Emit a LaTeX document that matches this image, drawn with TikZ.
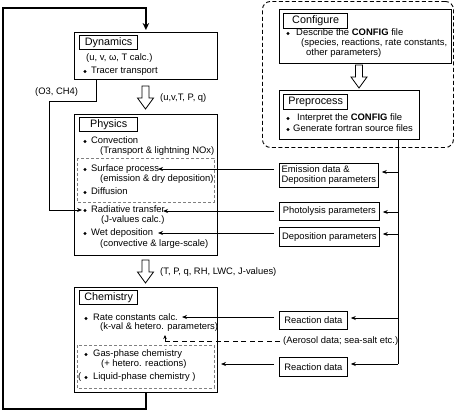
\documentclass[tikz,border=0pt]{standalone}
\usepackage{fontspec}
\setmainfont{Liberation Sans}
\usetikzlibrary{arrows.meta}
\newcommand\harrow[3]{%
  \draw[line width=0.8pt, fill=white, line join=miter] (#1-3.5,#2) -- (#1+3.5,#2) -- (#1+3.5,#3-11) -- (#1+8,#3-11) -- (#1,#3) -- (#1-8,#3-11) -- (#1-3.5,#3-11) -- cycle;}
\begin{document}
\begin{tikzpicture}[x=1pt,y=-1pt,
  every node/.style={inner sep=0pt},
  bodyf/.style={font=\fontsize{9.4}{10}\selectfont},
  cfgf/.style={font=\fontsize{9.45}{10}\selectfont},
  txt/.style={bodyf, anchor=west, text height=6.8pt, text depth=1.8pt},
  ctxt/.style={cfgf, anchor=west, text height=6.8pt, text depth=1.8pt},
  mainbox/.style={draw, line width=0.8pt, anchor=north west},
  titlebox/.style={draw, line width=1.3pt, anchor=north west, minimum width=58pt, minimum height=14pt, font=\fontsize{10.8}{12}\selectfont},
  subbox/.style={draw=gray, line width=0.7pt, dash pattern=on 3pt off 2pt},
  databox/.style={draw, line width=0.8pt, bodyf, anchor=north west, align=left},
  conn/.style={line width=0.8pt},
  arr/.style={conn, -{Stealth[length=5pt,width=4pt]}},
]
\useasboundingbox (0,0) rectangle (454,413);
\fill[white] (0,0) rectangle (454,413);

% ---------------- main boxes ----------------
\node[mainbox, minimum width=143pt, minimum height=47pt] (dyn) at (74,32) {};
\node[titlebox] (dynt) at (79,35) {Dynamics};
\node[txt] (dyn1) at (86,58) {(u, v, ω, T calc.)};
\fill (85,71.5) circle (1.7pt);
\node[txt] (dyn2) at (91,71) {Tracer transport};

\node[mainbox, minimum width=143pt, minimum height=141pt] (phys) at (74,114) {};
\node[titlebox] (physt) at (79,117) {Physics};
\draw[subbox] (77,158) rectangle (214,202);
\fill (85,141.5) circle (1.7pt);
\node[txt] (p1) at (91,141) {Convection};
\node[txt] (p1b) at (100,151) {(Transport \& lightning NOx)};
\fill (85,169.5) circle (1.7pt);
\node[txt] (p2) at (91,169) {Surface process};
\node[txt] (p2b) at (100,179) {(emission \& dry deposition)};
\fill (85,192.5) circle (1.7pt);
\node[txt] (p3) at (91,192) {Diffusion};
\fill (85,210.5) circle (1.7pt);
\node[txt] (p4) at (91,210) {Radiative transfer};
\node[txt] (p4b) at (101,220) {(J-values calc.)};
\fill (85,233.5) circle (1.7pt);
\node[txt] (p5) at (91,233) {Wet deposition};
\node[txt] (p5b) at (100,244) {(convective \& large-scale)};

\node[mainbox, minimum width=143pt, minimum height=105pt] (chem) at (74,287) {};
\node[titlebox] (chemt) at (79,290) {Chemistry};
\draw[subbox] (77,345) rectangle (214,388);
\fill (86,318.5) circle (1.7pt);
\node[txt] (c1) at (93,318) {Rate constants calc.};
\node[txt] (c1b) at (100,327) {(k-val \& hetero. parameters)};
\fill (86,354.5) circle (1.7pt);
\node[txt] (c2) at (93,354) {Gas-phase chemistry};
\node[txt] (c2b) at (101,364) {(+ hetero. reactions)};
\node[txt] (c3) at (78,377) {(\hspace{11.8pt}Liquid-phase chemistry )};
\fill (86,377.5) circle (1.7pt);

% ---------------- configure region ----------------
\node[draw, line width=0.9pt, dash pattern=on 4pt off 2.5pt, rounded corners=8pt, minimum width=191pt, minimum height=146pt, anchor=north west] (region) at (262,1) {};
\node[mainbox, minimum width=172pt, minimum height=54pt] (cfg) at (279,9) {};
\node[titlebox, minimum width=64pt, minimum height=15pt] (cfgt) at (283,13) {Configure};
\fill (288,33.5) circle (1.7pt);
\node[ctxt] (cf1) at (296,33) {Describe the \textbf{CONFIG} file};
\node[ctxt] (cf2) at (301,43) {(species, reactions, rate constants,};
\node[ctxt] (cf3) at (306,53) {other parameters)};

\node[mainbox, minimum width=140pt, minimum height=49pt] (prep) at (279,90) {};
\node[titlebox, minimum width=64pt, minimum height=15pt] (prept) at (283,94) {Preprocess};
\fill (288,118.5) circle (1.7pt);
\node[ctxt] (pr1) at (297,118) {Interpret the \textbf{CONFIG} file};
\fill (288,129.5) circle (1.7pt);
\node[ctxt] (pr2) at (293,129) {Generate fortran source files};

% ---------------- data boxes ----------------
\node[databox, minimum width=99pt, minimum height=24pt] (emis) at (279,163) {Emission data \&\\Deposition parameters};
\node[databox, minimum width=100pt, minimum height=18pt] (phot) at (279,202) {Photolysis parameters};
\node[databox, minimum width=100pt, minimum height=19pt] (depo) at (279,227) {Deposition parameters};
\node[databox, minimum width=68pt, minimum height=18pt] (rd1) at (279,311) {Reaction data};
\node[databox, minimum width=68pt, minimum height=19pt] (rd2) at (279,357) {Reaction data};

% ---------------- labels ----------------
\node[txt] (o3) at (35,92) {(O3, CH4)};
\node[txt] (uvt) at (160,98) {(u,v,T, P, q)};
\node[txt] (tpq) at (160,272) {(T, P, q, RH, LWC, J-values)};
\node[txt] (aer) at (283,341) {(Aerosol data; sea-salt etc.)};

% ---------------- hollow arrows ----------------
\harrow{145.5}{86}{109}
\harrow{145.5}{260}{283}
\harrow{359}{65}{88}

% ---------------- loop ----------------
\draw[line width=1.6pt, -{Stealth[length=7pt,width=6.5pt]}, shorten >=2pt]
  (chem.south) -- ++(0,16) -| (3,8) -| (dyn.north);

% ---------------- O3 feedback ----------------
\coordinate (o3s) at (96,79);
\coordinate (rtl) at (82,210);
\draw[arr] (o3s) |- (49,101) |- (rtl);

% ---------------- right distribution line ----------------
\coordinate (vx) at (398,0);
\coordinate (ye) at (0,172);
\coordinate (yp) at (0,212);
\coordinate (yd) at (0,234);
\coordinate (yr1) at (0,318);
\coordinate (yr2) at (0,364);
\draw[conn] (prep.south -| vx) -- (vx |- yr2);
\draw[arr, shorten >=3pt] (vx |- ye) -- (emis.east |- ye);
\draw[arr, shorten >=3pt] (vx |- yp) -- (phot.east |- yp);
\draw[arr, shorten >=3pt] (vx |- yd) -- (depo.east |- yd);
\draw[arr, shorten >=3pt] (vx |- yr1) -- (rd1.east |- yr1);
\draw[arr, shorten >=3pt] (vx |- yr2) -- (rd2.east |- yr2);

% ---------------- data to processes ----------------
\coordinate (sptip) at (158,169);
\coordinate (rttip) at (163,211);
\coordinate (wdtip) at (158,233);
\coordinate (rctip) at (182,317);
\coordinate (gptip) at (221,364);
\draw[arr, shorten <=5pt] (emis.west |- sptip) -- (sptip);
\draw[arr, shorten <=5pt] (phot.west |- rttip) -- (rttip);
\draw[arr, shorten <=5pt] (depo.west |- wdtip) -- (wdtip);
\draw[arr, shorten <=5pt] (rd1.west |- rctip) -- (rctip);
\draw[arr, shorten <=5pt] (rd2.west |- gptip) -- (gptip);

% aerosol
\coordinate (aerc) at (165,341);
\coordinate (aertip) at (165,335);
\draw[conn, dash pattern=on 5pt off 3.5pt] ([xshift=-3pt]aer.west) -- (aerc);
\draw[conn, -{Stealth[length=4pt,width=3.5pt]}] (aerc) -- (aertip);
\end{tikzpicture}
\end{document}
